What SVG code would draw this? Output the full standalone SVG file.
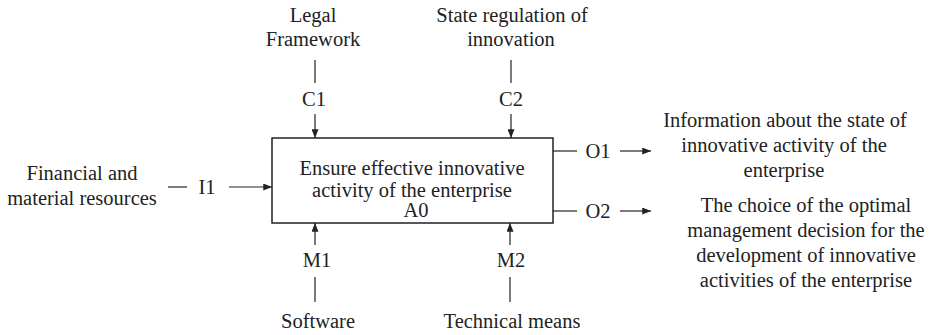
<svg xmlns="http://www.w3.org/2000/svg" width="932" height="335" viewBox="0 0 932 335">
  <style>
    text { font-family: "Liberation Serif", "Times New Roman", serif; font-size: 20.5px; fill: #222; text-anchor: middle; }
    .ln { stroke: #222; stroke-width: 1.2; fill: none; }
    .box { stroke: #222; stroke-width: 1.5; fill: #fff; }
  </style>
  <defs>
    <marker id="ah" viewBox="0 0 10 8" refX="10" refY="4" markerWidth="9" markerHeight="7" markerUnits="userSpaceOnUse" orient="auto">
      <path d="M0,0 L10,4 L0,8 z" fill="#222"/>
    </marker>
  </defs>
  <rect width="932" height="335" fill="#fff"/>

  <!-- activity box -->
  <g id="a0">
    <rect class="box" x="272" y="138" width="281" height="85"/>
    <text x="412" y="175">Ensure effective innovative</text>
    <text x="412" y="197">activity of the enterprise</text>
    <text x="416" y="217">A0</text>
  </g>

  <!-- ICOM labels -->
  <g id="c1">
    <text x="313" y="22">Legal</text>
    <text x="313" y="46">Framework</text>
    <text x="314" y="106">C1</text>
  </g>
  <g id="c2">
    <text x="512" y="22">State regulation of</text>
    <text x="511" y="46">innovation</text>
    <text x="511" y="106">C2</text>
  </g>
  <g id="i1">
    <text x="82" y="180">Financial and</text>
    <text x="82" y="205">material resources</text>
    <text x="207" y="194">I1</text>
  </g>
  <g id="m1">
    <text x="317" y="267">M1</text>
    <text x="318" y="328">Software</text>
  </g>
  <g id="m2">
    <text x="511" y="267">M2</text>
    <text x="512" y="328">Technical means</text>
  </g>
  <g id="o1">
    <text x="598" y="158">O1</text>
    <text x="785" y="127">Information about the state of</text>
    <text x="784" y="152">innovative activity of the</text>
    <text x="784" y="177">enterprise</text>
  </g>
  <g id="o2">
    <text x="598" y="218">O2</text>
    <text x="806" y="212">The choice of the optimal</text>
    <text x="806" y="237">management decision for the</text>
    <text x="806" y="262">development of innovative</text>
    <text x="806" y="287">activities of the enterprise</text>
  </g>

  <!-- connectors -->
  <g id="connectors">
    <path class="ln" d="M315,60 V83"/>
    <path class="ln" d="M315,114 V138" marker-end="url(#ah)"/>
    <path class="ln" d="M511,60 V83"/>
    <path class="ln" d="M511,114 V138" marker-end="url(#ah)"/>
    <path class="ln" d="M168,187 H187"/>
    <path class="ln" d="M229,187 H272" marker-end="url(#ah)"/>
    <path class="ln" d="M315,245 V223" marker-end="url(#ah)"/>
    <path class="ln" d="M315,277 V302"/>
    <path class="ln" d="M510,245 V223" marker-end="url(#ah)"/>
    <path class="ln" d="M510,277 V302"/>
    <path class="ln" d="M553,151 H577"/>
    <path class="ln" d="M620,151 H651" marker-end="url(#ah)"/>
    <path class="ln" d="M553,211 H577"/>
    <path class="ln" d="M620,211 H651" marker-end="url(#ah)"/>
  </g>
</svg>
